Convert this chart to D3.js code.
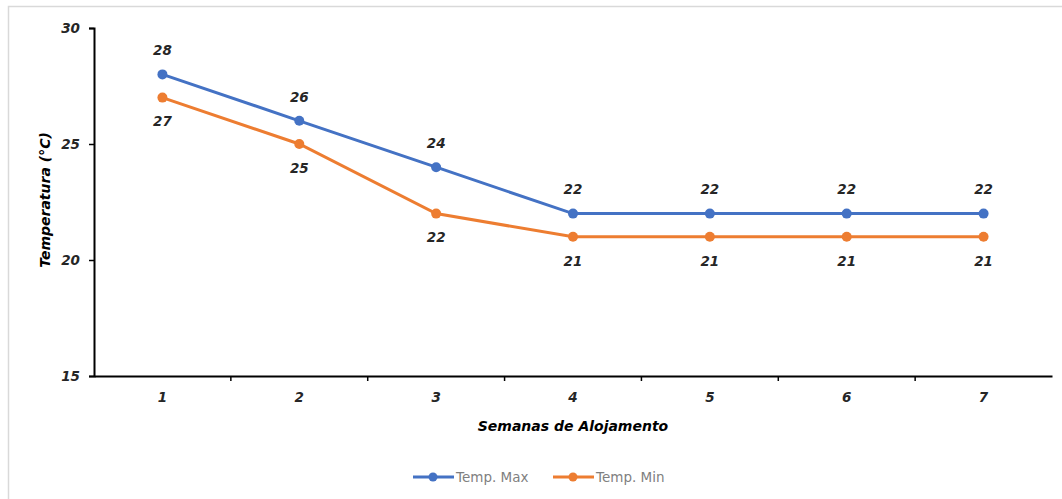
<!DOCTYPE html>
<html>
<head>
<meta charset="utf-8">
<script src="https://cdn.jsdelivr.net/npm/d3@7"></script>
<style>
  body { margin: 0; background: #fff; }
  text { font-family: "DejaVu Sans", sans-serif; }
</style>
</head>
<body>
<svg id="chart"></svg>
<script>
var width = 1062,
    height = 499;

var weeks = ["1", "2", "3", "4", "5", "6", "7"];
var tempMax = [28, 26, 24, 22, 22, 22, 22];
var tempMin = [27, 25, 22, 21, 21, 21, 21];
var yTicks = [15, 20, 25, 30];

var svg = d3.select("#chart")
    .attr("width", width)
    .attr("height", height);

// chart frame
svg.append("rect")
    .attr("x", 8.5)
    .attr("y", 6.5)
    .attr("width", width)
    .attr("height", height)
    .attr("fill", "none")
    .attr("stroke", "#d9d9d9")
    .attr("stroke-width", 1.5);

var x = d3.scaleBand().domain(weeks).range([94, 1052]),
    y = d3.scaleLinear().domain([15, 30]).range([376, 28]);

var xAxis = svg.append("g")
    .attr("transform", "translate(0,376)")
    .call(d3.axisBottom(x).tickSize(0).tickPadding(16));

xAxis.select(".domain").attr("stroke", "#000").attr("stroke-width", 2);
// tick marks on category boundaries
xAxis.selectAll(".bound")
    .data(weeks.slice(1))
  .enter().append("line")
    .attr("x1", d => x(d))
    .attr("x2", d => x(d))
    .attr("y1", 0)
    .attr("y2", 5)
    .attr("stroke", "#000")
    .attr("stroke-width", 1.5);

var yAxis = svg.append("g")
    .attr("transform", "translate(94,0)")
    .call(d3.axisLeft(y).tickValues(yTicks).tickSize(5).tickSizeOuter(5).tickPadding(9));

yAxis.select(".domain").attr("stroke", "#000").attr("stroke-width", 2);
yAxis.selectAll(".tick line").attr("stroke", "#000").attr("stroke-width", 1.5);

svg.selectAll(".tick text")
    .attr("font-family", "'DejaVu Sans', sans-serif")
    .attr("font-size", 13.5)
    .attr("font-weight", "bold")
    .attr("font-style", "italic")
    .attr("fill", "#262626");

// axis titles
svg.append("text")
    .attr("transform", "translate(50,200)rotate(-90)")
    .attr("text-anchor", "middle")
    .attr("font-size", 14)
    .attr("font-weight", "bold")
    .attr("font-style", "italic")
    .attr("fill", "#000")
    .text("Temperatura (°C)");

svg.append("text")
    .attr("x", 573)
    .attr("y", 431)
    .attr("text-anchor", "middle")
    .attr("font-size", 14)
    .attr("font-weight", "bold")
    .attr("font-style", "italic")
    .attr("fill", "#000")
    .text("Semanas de Alojamento");

var series = [
  {name: "Temp. Max", values: tempMax, color: "#4472C4", dy: -24},
  {name: "Temp. Min", values: tempMin, color: "#ED7D31", dy: 24}
];

var line = d3.line()
    .x((d, i) => x(weeks[i]) + x.bandwidth() / 2)
    .y(d => y(d));

series.forEach(function(s) {
  svg.append("path")
      .datum(s.values)
      .attr("fill", "none")
      .attr("stroke", s.color)
      .attr("stroke-width", 3)
      .attr("d", line);

  svg.selectAll(null)
      .data(s.values)
    .enter().append("circle")
      .attr("cx", (d, i) => x(weeks[i]) + x.bandwidth() / 2)
      .attr("cy", d => y(d))
      .attr("r", 5)
      .attr("fill", s.color);

  svg.selectAll(null)
      .data(s.values)
    .enter().append("text")
      .attr("x", (d, i) => x(weeks[i]) + x.bandwidth() / 2)
      .attr("y", d => y(d) + s.dy)
      .attr("dy", ".35em")
      .attr("text-anchor", "middle")
      .attr("font-size", 13.5)
      .attr("font-weight", "bold")
      .attr("font-style", "italic")
      .attr("fill", "#262626")
      .text(d => d);
});

// legend
var legend = svg.selectAll(".legend")
    .data(series)
  .enter().append("g")
    .attr("class", "legend")
    .attr("transform", (d, i) => "translate(" + (413 + i * 140) + ",477)");

legend.append("line")
    .attr("x1", 0)
    .attr("x2", 41)
    .attr("stroke", d => d.color)
    .attr("stroke-width", 3);

legend.append("circle")
    .attr("cx", 20)
    .attr("r", 4.5)
    .attr("fill", d => d.color);

legend.append("text")
    .attr("x", 43)
    .attr("dy", ".35em")
    .attr("font-size", 13.5)
    .attr("fill", "#7f7f7f")
    .text(d => d.name);
</script>
</body>
</html>
